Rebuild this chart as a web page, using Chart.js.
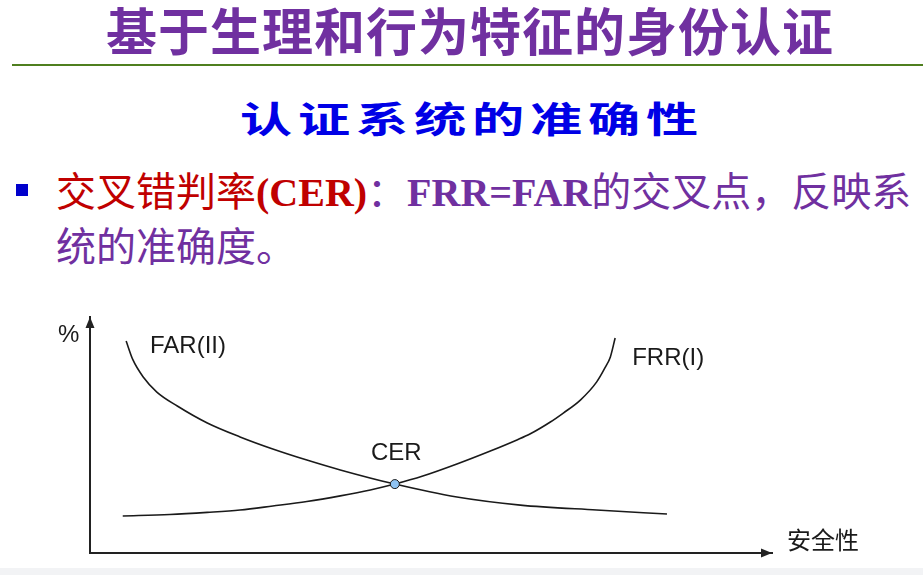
<!DOCTYPE html>
<html>
<head>
<meta charset="utf-8">
<script src="https://cdn.jsdelivr.net/npm/chart.js@4/dist/chart.umd.min.js"></script>
<style>
  html, body { margin: 0; padding: 0; background: #fff; }
  body { width: 923px; height: 575px; position: relative; overflow: hidden; }
  .title { position: absolute; left: 0; width: 940px; top: 4px; text-align: center;
    font: bold 51px/51px "Noto Sans CJK SC", sans-serif; color: #7030A0; letter-spacing: 1px; }
  .rule { position: absolute; left: 12px; right: 0; top: 64px; height: 2px; background: #4f7f1f; }
  .sub { position: absolute; left: 240px; top: 99px; white-space: nowrap;
    font: bold 36px/36px "Noto Sans CJK SC", sans-serif; color: #0000e6; letter-spacing: 4px;
    transform: scaleX(1.45); transform-origin: left top; }
  .bullet { position: absolute; left: 16px; top: 184px; width: 12px; height: 12px; background: #0000cc; }
  .line { position: absolute; left: 56px; white-space: nowrap;
    font: 40px/55px "Noto Sans CJK SC", sans-serif; color: #7030A0; }
  .red { color: #c00000; }
  .en { font-family: "Liberation Serif", "Times New Roman", serif; font-weight: bold; }
  .band { position: absolute; left: 0; right: 0; top: 568px; bottom: 0; background: #f2f3f5; }
  #chart { position: absolute; left: 0; top: 290px; }
</style>
</head>
<body>
<div class="title">基于生理和行为特征的身份认证</div>
<div class="rule"></div>
<div class="sub">认证系统的准确性</div>
<div class="bullet"></div>
<div class="line" style="top:162px"><span class="red">交叉错判率<span class="en">(CER)</span></span>：<span class="en">FRR=FAR</span>的交叉点，反映系</div>
<div class="line" style="top:217px">统的准确度。</div>
<div class="band"></div>
<canvas id="chart" width="923" height="278"></canvas>
<script>
// curve values (x: security level, y: error rate %, 0..100)
const farX = [5.3, 6.3, 7.8, 9.8, 12.8, 17.2, 22.0, 26.8, 31.8, 36.7, 44.7, 53.8, 63.1, 74.3, 84.6];
const farY = [89.8, 81.8, 74.6, 68.2, 62.3, 55.1, 49.2, 44.1, 39.4, 35.2, 29.2, 23.7, 20.3, 18.2, 16.5];
const frrX = [4.8, 11.7, 17.2, 22.0, 26.8, 31.8, 36.7, 41.1, 44.7, 48.8, 53.8, 58.7, 62.6, 64.5, 67.5, 69.4, 71.9, 74.3, 75.5, 76.3, 77.0];
const frrY = [15.7, 16.3, 17.2, 18.2, 19.9, 21.8, 24.2, 26.7, 29.2, 32.6, 37.7, 43.2, 47.9, 50.4, 55.5, 59.3, 64.8, 72.5, 78.4, 83.1, 91.1];
const cerX = [44.7];
const cerY = [29.2];

const toPoints = (xs, ys) => xs.map((x, i) => ({ x: x, y: ys[i] }));

// text notes placed in data space
const notes = [
  { text: 'FAR(II)', x: 8.8, y: 84.7, align: 'left', font: '24px "Liberation Sans", Arial, sans-serif' },
  { text: 'FRR(I)', x: 79.5, y: 79.7, align: 'left', font: '24px "Liberation Sans", Arial, sans-serif' },
  { text: 'CER', x: 44.9, y: 39.4, align: 'center', font: '24px "Liberation Sans", Arial, sans-serif' },
  { text: '%', x: -4.7, y: 89.4, align: 'left', font: '24px "Liberation Sans", Arial, sans-serif' },
  { text: '安全性', x: 102.2, y: 1.7, align: 'left', font: '24px "Noto Sans CJK SC", sans-serif' }
];

const axisArrows = {
  id: 'axisArrows',
  afterDraw(chart) {
    const { ctx, chartArea: a, scales } = chart;
    ctx.save();
    ctx.fillStyle = '#222';
    ctx.beginPath();
    ctx.moveTo(a.left, a.top);
    ctx.lineTo(a.left - 4.5, a.top + 11);
    ctx.lineTo(a.left + 4.5, a.top + 11);
    ctx.closePath();
    ctx.fill();
    ctx.beginPath();
    ctx.moveTo(a.right, a.bottom);
    ctx.lineTo(a.right - 11, a.bottom - 4.5);
    ctx.lineTo(a.right - 11, a.bottom + 4.5);
    ctx.closePath();
    ctx.fill();
    ctx.fillStyle = '#1a1a1a';
    ctx.textBaseline = 'alphabetic';
    notes.forEach(n => {
      ctx.font = n.font;
      ctx.textAlign = n.align;
      ctx.fillText(n.text, scales.x.getPixelForValue(n.x), scales.y.getPixelForValue(n.y));
    });
    ctx.restore();
  }
};

new Chart(document.getElementById('chart'), {
  type: 'line',
  data: {
    datasets: [
      { label: 'FAR(II)', data: toPoints(farX, farY), borderColor: '#1a1a1a', borderWidth: 1.6,
        pointRadius: 0, cubicInterpolationMode: 'monotone', fill: false, order: 2 },
      { label: 'FRR(I)', data: toPoints(frrX, frrY), borderColor: '#1a1a1a', borderWidth: 1.6,
        pointRadius: 0, cubicInterpolationMode: 'monotone', fill: false, order: 2 },
      { label: 'CER', data: toPoints(cerX, cerY), showLine: false, pointRadius: 4.5,
        pointBackgroundColor: '#8fc3f2', pointBorderColor: '#1a1a1a', pointBorderWidth: 1, order: 1 }
    ]
  },
  options: {
    responsive: false,
    animation: false,
    devicePixelRatio: 1,
    layout: { padding: { left: 82, right: 151, top: 27, bottom: 7 } },
    plugins: { legend: { display: false }, tooltip: { enabled: false } },
    scales: {
      x: { type: 'linear', min: 0, max: 100,
        grid: { display: false }, ticks: { display: false },
        border: { display: true, color: '#222', width: 2 } },
      y: { type: 'linear', min: 0, max: 100,
        grid: { display: false }, ticks: { display: false },
        border: { display: true, color: '#222', width: 2 } }
    }
  },
  plugins: [axisArrows]
});
</script>
</body>
</html>
